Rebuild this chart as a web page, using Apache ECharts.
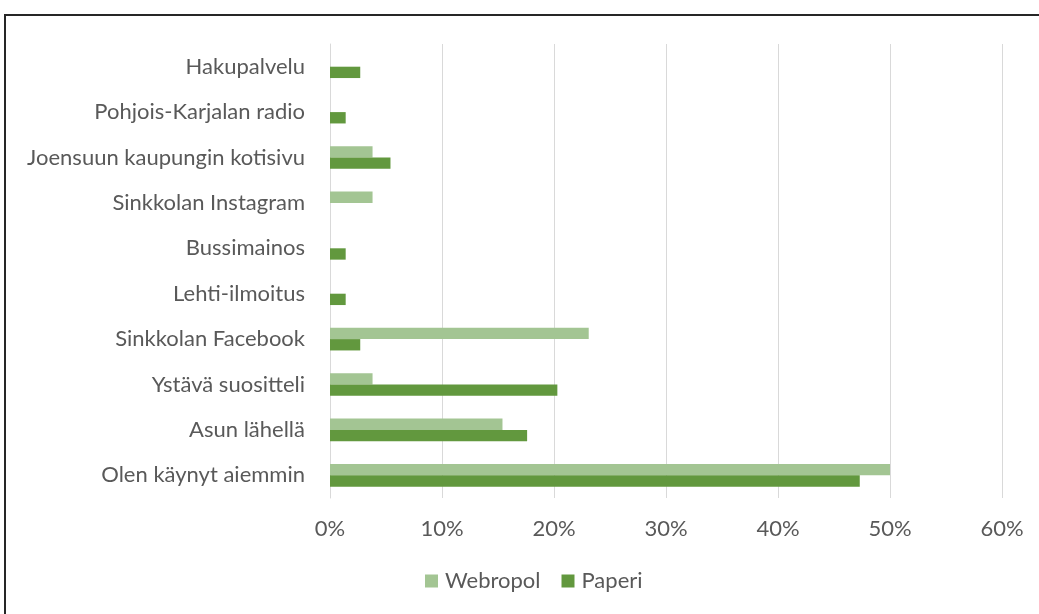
<!DOCTYPE html>
<html>
<head>
<meta charset="utf-8">
<script src="https://cdn.jsdelivr.net/npm/echarts@6/dist/echarts.min.js"></script>
<style>
  html, body { margin: 0; padding: 0; background: #fff; }
  #frame {
    position: absolute; left: 4px; top: 14px; width: 1100px; height: 700px;
    border-left: 2px solid #262626; border-top: 2px solid #262626;
  }
  #chart { position: absolute; left: 0; top: 0; width: 1039px; height: 614px; }
</style>
</head>
<body>
<div id="frame"></div>
<div id="chart"></div>
<script>
// Where respondents heard about the place (share of answers, %)
const categories = [
  'Olen käynyt aiemmin',
  'Asun lähellä',
  'Ystävä suositteli',
  'Sinkkolan Facebook',
  'Lehti-ilmoitus',
  'Bussimainos',
  'Sinkkolan Instagram',
  'Joensuun kaupungin kotisivu',
  'Pohjois-Karjalan radio',
  'Hakupalvelu'
];
const webropol = [50.0, 15.4, 3.8, 23.1, 0, 0, 3.8, 3.8, 0, 0];
const paperi   = [47.3, 17.6, 20.3, 2.7, 1.4, 1.4, 0, 5.4, 1.4, 2.7];
const seriesNames = ['Webropol', 'Paperi'];

const FONT = 'Lato, "Open Sans", sans-serif';
const TEXT = '#595959';

const chart = echarts.init(document.getElementById('chart'), null, { renderer: 'canvas' });
chart.setOption({
  backgroundColor: 'transparent',
  animation: false,
  grid: { left: 330, right: 37, top: 44, bottom: 116, containLabel: false },
  legend: {
    data: seriesNames,
    top: 570,
    left: 425,
    padding: 0,
    icon: 'rect',
    itemWidth: 13,
    itemHeight: 13,
    itemGap: 21,
    textStyle: { fontFamily: FONT, fontSize: 22, color: TEXT, padding: [0, 0, 0, 2] }
  },
  xAxis: {
    type: 'value',
    min: 0, max: 60, interval: 10,
    axisLine: { show: false },
    axisTick: { show: false },
    splitLine: { lineStyle: { color: '#d9d9d9', width: 1 } },
    axisLabel: { formatter: '{value}%', fontFamily: FONT, fontSize: 22, color: TEXT, margin: 20 }
  },
  yAxis: {
    type: 'category',
    data: categories,
    axisLine: { lineStyle: { color: '#d9d9d9' } },
    axisTick: { show: false },
    axisLabel: { fontFamily: FONT, fontSize: 22, color: TEXT, margin: 25 }
  },
  series: [
    {
      name: seriesNames[0], type: 'bar', data: webropol,
      itemStyle: { color: '#a3c593' },
      barGap: '0%', barCategoryGap: '50%'
    },
    {
      name: seriesNames[1], type: 'bar', data: paperi,
      itemStyle: { color: '#62983e' },
      barGap: '0%', barCategoryGap: '50%'
    }
  ]
});
</script>
</body>
</html>
